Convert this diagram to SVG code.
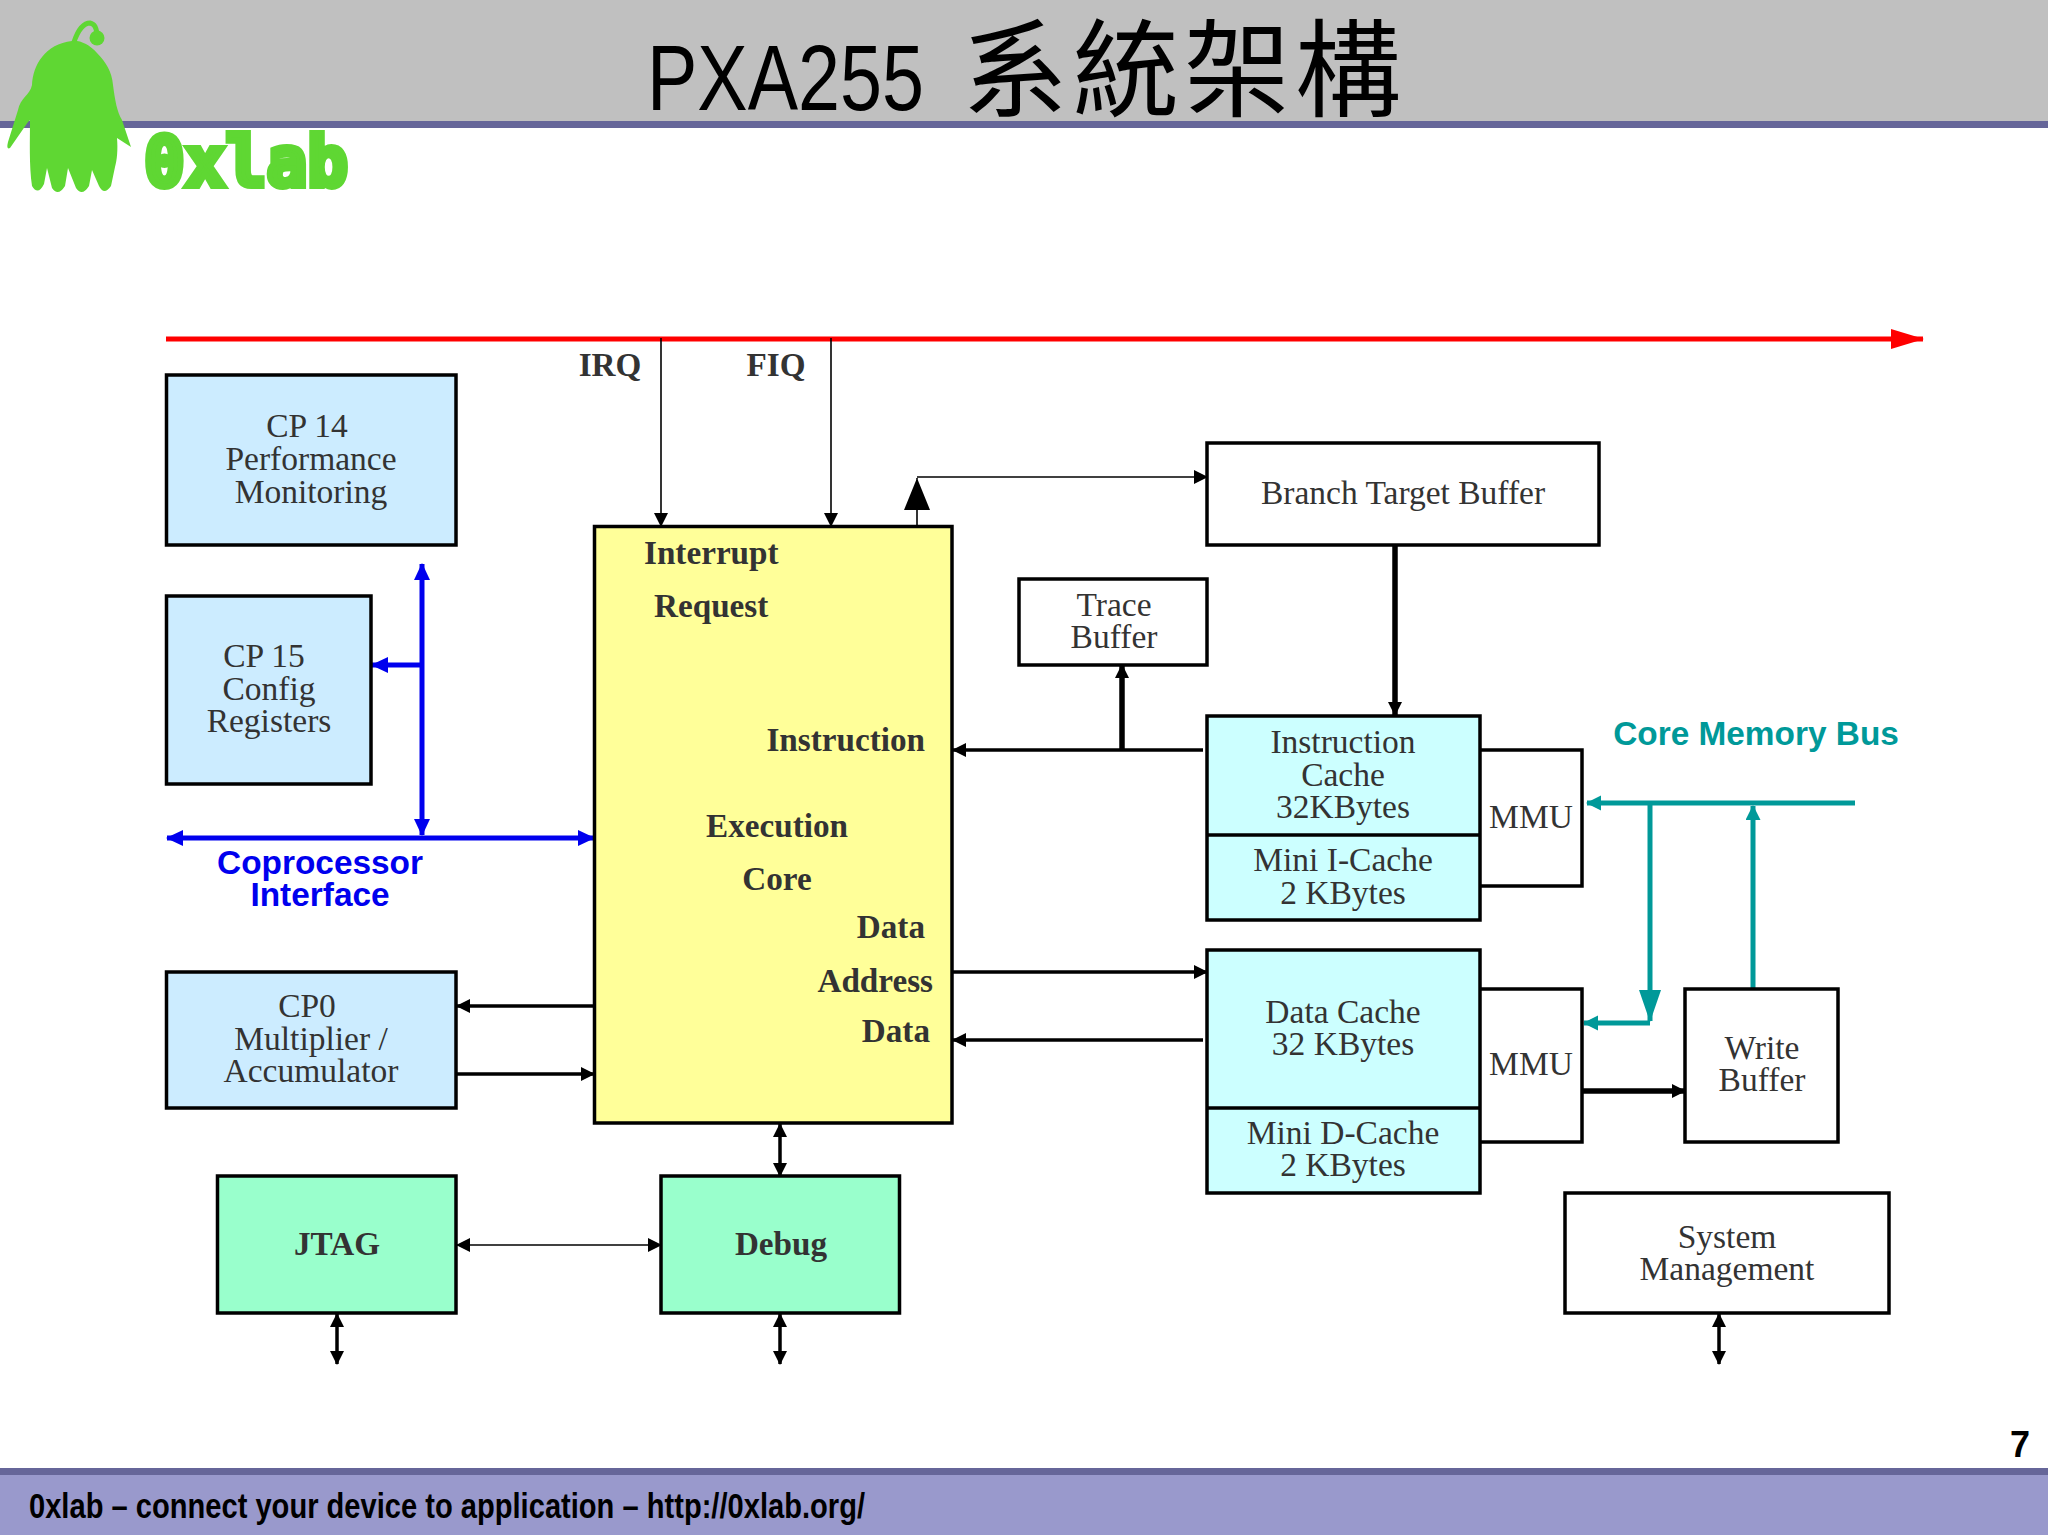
<svg xmlns="http://www.w3.org/2000/svg" width="2048" height="1535" viewBox="0 0 2048 1535">
<style>
.box{stroke:#000;stroke-width:3.5}
.cp{fill:#ccecff}.core{fill:#ffff99}.cache{fill:#ccffff}.dbg{fill:#99ffcc}.plain{fill:#fff}
text{font-family:"Liberation Serif","Noto Sans CJK TC",serif;font-size:33.5px;fill:#333;text-anchor:middle}
.b{font-weight:bold;font-size:33.2px}
.r{text-anchor:end}.l{text-anchor:start}
.s{font-family:"Liberation Sans",sans-serif;font-weight:bold;font-size:33.4px}
.wire{fill:none;stroke:#000}
.t1{stroke-width:1.6}.t2{stroke-width:3.5}.t3{stroke-width:5.5}
</style>
<defs>
<marker id="ak" markerUnits="userSpaceOnUse" markerWidth="16" markerHeight="16" refX="13" refY="7" orient="auto-start-reverse"><path d="M0 0L14 7L0 14Z" fill="#000"/></marker>
<marker id="akb" markerUnits="userSpaceOnUse" markerWidth="30" markerHeight="26" refX="32" refY="13" orient="auto"><path d="M0 0L32 13L0 26Z" fill="#000"/></marker>
<marker id="ab" markerUnits="userSpaceOnUse" markerWidth="18" markerHeight="16" refX="16" refY="8" orient="auto-start-reverse"><path d="M0 0L17 8L0 16Z" fill="#0000ee"/></marker>
<marker id="at" markerUnits="userSpaceOnUse" markerWidth="16" markerHeight="16" refX="14" refY="7.5" orient="auto"><path d="M0 0L15 7.5L0 15Z" fill="#009999"/></marker>
<marker id="atb" markerUnits="userSpaceOnUse" markerWidth="32" markerHeight="22" refX="31" refY="11" orient="auto"><path d="M0 0L32 11L0 22Z" fill="#009999"/></marker>
<marker id="ar" markerUnits="userSpaceOnUse" markerWidth="34" markerHeight="20" refX="32" refY="10" orient="auto"><path d="M0 0L33 10L0 20Z" fill="#ff0000"/></marker>
</defs>
<rect width="2048" height="1535" fill="#fff"/>
<g id="header">
<rect width="2048" height="121" fill="#c0c0c0"/>
<rect y="121" width="2048" height="7" fill="#666699"/>
<text x="647" y="110" class="l" style="font-family:'Liberation Sans',sans-serif;font-size:93px;fill:#000" textLength="277" lengthAdjust="spacingAndGlyphs">PXA255</text>
<text x="962" y="108" class="l" style="font-family:'Noto Sans CJK TC',sans-serif;font-size:106px;fill:#000;letter-spacing:5px">系統架構</text>
</g>
<g id="logo" fill="#5fd733">
<path d="M72 41C80 40 90 45 97 53C106 62 112 72 113 85C115 100 117 112 122 120L131 147L117 138C118 150 117 160 115 167L111 186Q104 196 99 186L92 170L89 186Q82 197 76 188L68 168L65 186Q58 197 52 188L47 168L44 184Q38 196 32 186C29 165 30 140 30 120L28 122L10 148Q6 150 8 142L18 110C20 98 30 95 32 85C33 65 45 44 72 41Z"/>
<path d="M74 42C78 30 84 23 90 23C95 24 96 28 97 33" fill="none" stroke="#5fd733" stroke-width="5"/>
<circle cx="97" cy="38" r="7.5"/>
<text x="144" y="186" class="l" style="font-family:'DejaVu Sans Mono',monospace;font-weight:bold;font-size:70px;fill:#5fd733;stroke:#5fd733;stroke-width:6" textLength="204" lengthAdjust="spacingAndGlyphs">0xlab</text>
</g>
<g id="connectors">
<path class="wire" d="M166 339H1923" style="stroke:#f00;stroke-width:5" marker-end="url(#ar)"/>
<path class="wire t1" d="M661 338V526" marker-end="url(#ak)"/>
<path class="wire t1" d="M831 338V526" marker-end="url(#ak)"/>
<path class="wire t1" d="M917 526V478" marker-end="url(#akb)"/>
<path class="wire t1" d="M917 477H1207" marker-end="url(#ak)"/>
<path class="wire t3" d="M1395 545V715" marker-end="url(#ak)"/>
<path class="wire t3" d="M1122 750V665" marker-end="url(#ak)"/>
<path class="wire t2" d="M1203 750H953" marker-end="url(#ak)"/>
<path class="wire t2" d="M953 972H1207" marker-end="url(#ak)"/>
<path class="wire t2" d="M1203 1040H953" marker-end="url(#ak)"/>
<path class="wire t2" d="M594 1006H457" marker-end="url(#ak)"/>
<path class="wire t2" d="M457 1074H594" marker-end="url(#ak)"/>
<path class="wire t2" d="M780 1124V1176" marker-start="url(#ak)" marker-end="url(#ak)"/>
<path class="wire t1" d="M457 1245H661" marker-start="url(#ak)" marker-end="url(#ak)"/>
<path class="wire t2" d="M337 1314V1364" marker-start="url(#ak)" marker-end="url(#ak)"/>
<path class="wire t2" d="M780 1314V1364" marker-start="url(#ak)" marker-end="url(#ak)"/>
<path class="wire t2" d="M1719 1314V1364" marker-start="url(#ak)" marker-end="url(#ak)"/>
<path class="wire" style="stroke:#0000ee;stroke-width:5" d="M422 564V835" marker-start="url(#ab)" marker-end="url(#ab)"/>
<path class="wire" style="stroke:#0000ee;stroke-width:5" d="M167 838H594" marker-start="url(#ab)" marker-end="url(#ab)"/>
<path class="wire" style="stroke:#0000ee;stroke-width:5" d="M422 665H372" marker-end="url(#ab)"/>
<path class="wire" style="stroke:#009999;stroke-width:5" d="M1855 803H1587" marker-end="url(#at)"/>
<path class="wire" style="stroke:#009999;stroke-width:5" d="M1650 803V1021" marker-end="url(#atb)"/>
<path class="wire" style="stroke:#009999;stroke-width:5" d="M1650 1023H1584" marker-end="url(#at)"/>
<path class="wire" style="stroke:#009999;stroke-width:5" d="M1753 989V806" marker-end="url(#at)"/>
<path class="wire t3" d="M1582 1091H1685" marker-end="url(#ak)"/>
</g>
<g id="cp14"><rect class="box cp" x="166.5" y="375" width="289.5" height="170"/><text x="307" y="437">CP 14</text><text x="311" y="470">Performance</text><text x="311" y="503">Monitoring</text></g>
<g id="cp15"><rect class="box cp" x="166.5" y="596" width="204.5" height="188"/><text x="264" y="667">CP 15</text><text x="269" y="700">Config</text><text x="269" y="732">Registers</text></g>
<g id="cp0"><rect class="box cp" x="166.5" y="972" width="289.5" height="136"/><text x="307" y="1017">CP0</text><text x="311" y="1050">Multiplier /</text><text x="311" y="1082">Accumulator</text></g>
<g id="jtag"><rect class="box dbg" x="217.5" y="1176" width="238.5" height="137"/><text class="b" x="337" y="1255">JTAG</text></g>
<g id="debug"><rect class="box dbg" x="661" y="1176" width="238.5" height="137"/><text class="b" x="781" y="1255">Debug</text></g>
<g id="core"><rect class="box core" x="594.5" y="526.5" width="357.5" height="596.5"/>
<text class="b l" x="644" y="564">Interrupt</text><text class="b l" x="654" y="617">Request</text>
<text class="b r" x="925" y="751">Instruction</text><text class="b" x="777" y="837">Execution</text><text class="b" x="777" y="890">Core</text>
<text class="b r" x="925" y="938">Data</text><text class="b r" x="933" y="992">Address</text><text class="b r" x="930" y="1042">Data</text></g>
<g id="irq"><text class="b" x="610" y="376">IRQ</text></g>
<g id="fiq"><text class="b" x="776" y="376">FIQ</text></g>
<g id="btb"><rect class="box plain" x="1207" y="443" width="392" height="102"/><text x="1403" y="504">Branch Target Buffer</text></g>
<g id="trace"><rect class="box plain" x="1019" y="579" width="188" height="86"/><text x="1114" y="616">Trace</text><text x="1114" y="648">Buffer</text></g>
<g id="immu"><rect class="box plain" x="1470" y="750" width="112" height="136"/><text x="1531" y="828">MMU</text></g>
<g id="icache"><rect class="box cache" x="1207" y="716" width="273" height="204"/><path class="box" d="M1207 835H1480"/><text x="1343" y="753">Instruction</text><text x="1343" y="786">Cache</text><text x="1343" y="818">32KBytes</text><text x="1343" y="871">Mini I-Cache</text><text x="1343" y="904">2 KBytes</text></g>
<g id="dmmu"><rect class="box plain" x="1470" y="989" width="112" height="153"/><text x="1531" y="1075">MMU</text></g>
<g id="dcache"><rect class="box cache" x="1207" y="950" width="273" height="243"/><path class="box" d="M1207 1108H1480"/><text x="1343" y="1023">Data Cache</text><text x="1343" y="1055">32 KBytes</text><text x="1343" y="1144">Mini D-Cache</text><text x="1343" y="1176">2 KBytes</text></g>
<g id="writebuf"><rect class="box plain" x="1685" y="989" width="153" height="153"/><text x="1762" y="1059">Write</text><text x="1762" y="1091">Buffer</text></g>
<g id="sysmgmt"><rect class="box plain" x="1565" y="1193" width="324" height="120"/><text x="1727" y="1248">System</text><text x="1727" y="1280">Management</text></g>
<g id="labels">
<text class="s" x="320" y="874" style="fill:#0000ee">Coprocessor</text><text class="s" x="320" y="906" style="fill:#0000ee">Interface</text>
<text class="s" x="1756" y="745" style="fill:#009999">Core Memory Bus</text>
<text class="s" x="2020" y="1457" style="fill:#000;font-size:36px">7</text>
</g>
<g id="footer">
<rect y="1468" width="2048" height="7" fill="#666699"/>
<rect y="1475" width="2048" height="60" fill="#9999cc"/>
<text class="s l" x="29" y="1518" style="fill:#000;font-size:35px" textLength="836" lengthAdjust="spacingAndGlyphs">0xlab – connect your device to application – http://0xlab.org/</text>
</g>
</svg>
